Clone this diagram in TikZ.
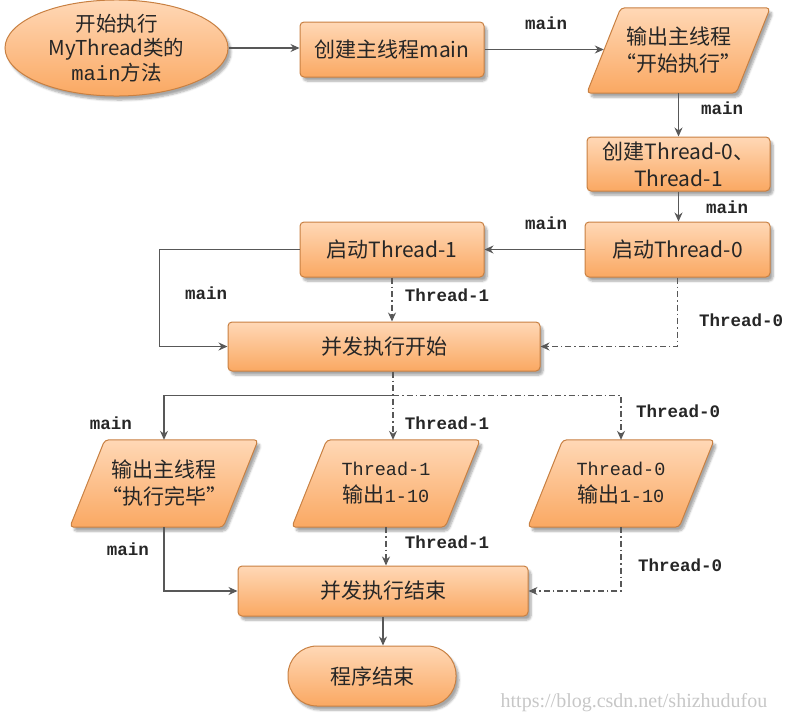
\documentclass[tikz,border=0pt]{standalone}
\usepackage{fontspec}
\setmainfont{Noto Sans CJK SC}
\newfontfamily\mono{Liberation Mono}
\newfontfamily\wmfont{Liberation Serif}
\usetikzlibrary{shapes.geometric,arrows.meta,shadows.blur,backgrounds}
\definecolor{ftop}{RGB}{255,216,182}
\definecolor{fmid}{RGB}{255,183,120}
\definecolor{fbot}{RGB}{250,168,98}
\definecolor{bord}{RGB}{200,128,66}
\definecolor{conn}{RGB}{88,88,88}
\tikzset{
  boxfill/.style={draw=bord, line width=1pt, top color=ftop, middle color=fmid, bottom color=fbot,
    blur shadow={shadow xshift=3pt, shadow yshift=-4pt, shadow blur steps=6, shadow opacity=35}},
  boxtext/.style={font=\fontsize{21}{27}\selectfont, align=center, inner sep=0pt, text=black!85},
  box/.style={boxfill, boxtext},
  rbox/.style={box, rectangle, rounded corners=4pt},
  pbox/.style={boxtext, rectangle},
  pfill/.style={boxfill, rounded corners=4pt},
  ebox/.style={box, ellipse},
  mline/.style={draw=conn, line width=1.1pt, -{Stealth[length=9pt,width=8pt]}},
  tline/.style={mline, dash pattern=on 6pt off 3pt on 1.5pt off 3pt},
  lab/.style={font=\mono\bfseries\fontsize{17.5}{20}\selectfont, text=black!85, inner sep=0pt}
}
\newcommand\mymono{\mono\fontsize{18.5}{27}\selectfont}
\newcommand\parashape[2]{%
  \path[pfill] ([xshift=-#2]#1.south west) -- ([xshift=#2]#1.north west)
    -- ([xshift=#2]#1.north east) -- ([xshift=-#2]#1.south east) -- cycle;}
\begin{document}
\begin{tikzpicture}[x=1pt,y=-1pt]
\useasboundingbox (0,0) rectangle (802,723);
% nodes
\node[ebox, minimum width=223pt, minimum height=76pt, font=\fontsize{20.5}{24.5}\selectfont] (e) at (116.5,48) {开始执行\\MyThread类的\\{\mono main}方法};
\node[rbox, minimum width=184pt, minimum height=55pt] (r1) at (392,49.5) {创建主线程main};
\node[pbox, minimum width=149pt, minimum height=85pt] (p1) at (678.5,50.5) {输出主线程\\“开始执行”};
\node[rbox, minimum width=183pt, minimum height=54pt] (r2) at (678.5,164) {创建Thread-0、\\Thread-1};
\node[rbox, minimum width=185pt, minimum height=55pt] (r3) at (677.5,249.5) {启动Thread-0};
\node[rbox, minimum width=184pt, minimum height=55pt] (r4) at (392,249.5) {启动Thread-1};
\node[rbox, minimum width=312pt, minimum height=49pt] (c1) at (384,346.5) {并发执行开始};
\node[pbox, minimum width=153pt, minimum height=87pt] (p2) at (164,483.5) {输出主线程\\“执行完毕”};
\node[pbox, minimum width=153pt, minimum height=87pt] (p3) at (386,483.5) {{\mymono Thread-1}\\输出{\mymono 1-10}};
\node[pbox, minimum width=151pt, minimum height=87pt] (p4) at (621,483.5) {{\mymono Thread-0}\\输出{\mymono 1-10}};
\node[rbox, minimum width=290pt, minimum height=50pt] (c2) at (383,591) {并发执行结束};
\node[box, rectangle, rounded corners=29pt, minimum width=168pt, minimum height=60pt] (t) at (372,676) {程序结束};
\begin{scope}[on background layer]
  \parashape{p1}{17pt}
  \parashape{p2}{17.5pt}
  \parashape{p3}{17.5pt}
  \parashape{p4}{17.5pt}
\end{scope}
% connectors
\draw[mline] (e.east) -- (e.east -| r1.west);
\draw[mline] (r1.east) -- (r1.east -| p1.west);
\draw[mline] (p1.south) -- (r2.north);
\draw[mline] (r2.south) -- (r2.south |- r3.north);
\draw[mline] (r3.west) -- (r4.east);
\draw[mline] (r4.west) -- ([xshift=-140pt]r4.west) |- (c1.west);
\draw[tline] (r4.south) -- (r4.south |- c1.north);
\draw[tline] (r3.south) |- (c1.east);
\coordinate (s1) at ([xshift=9pt]c1.south);
\coordinate (s2) at ([yshift=-24pt]s1);
\draw[tline] (s1) -- (s1 |- p3.north);
\draw[mline] (s2) -| (p2.north);
\draw[tline] (s2) -| (p4.north);
\draw[mline] (p2.south) |- (c2.west);
\draw[tline] (p3.south) -- (p3.south |- c2.north);
\draw[tline] (p4.south) |- (c2.east);
\draw[mline] (c2.south) -- (c2.south |- t.north);
% labels
\node[lab] (l1) at (546,23) {main};
\node[lab] (l2) at (722,108) {main};
\node[lab] (l3) at (727,207) {main};
\node[lab] (l4) at (546,223) {main};
\node[lab] (l5) at (206,293) {main};
\node[lab] (l6) at (111,423) {main};
\node[lab] (l7) at (128,549) {main};
\node[lab] (l8) at (447,295) {Thread-1};
\node[lab] (l9) at (447,423) {Thread-1};
\node[lab] (l10) at (447,542) {Thread-1};
\node[lab] (l11) at (741,320) {Thread-0};
\node[lab] (l12) at (678,411) {Thread-0};
\node[lab] (l13) at (680,565) {Thread-0};
\node[font=\wmfont\fontsize{20}{22}\selectfont, text=black!22, inner sep=0pt] (wm) at (634,703) {https://blog.csdn.net/shizhudufou};
\end{tikzpicture}
\end{document}
